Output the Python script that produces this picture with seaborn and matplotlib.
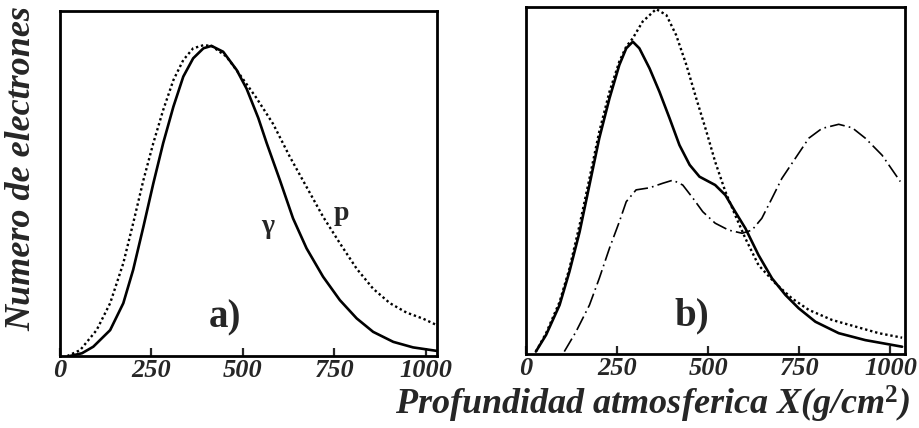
import numpy as np
import pandas as pd
import matplotlib
matplotlib.use("Agg")
import matplotlib.pyplot as plt
import seaborn as sns

# ---- data (y as fraction of panel height) ----
a_gamma_x = [27, 60, 91, 137, 173, 200, 228, 255, 282, 310, 337, 364, 392, 414, 446, 483, 510, 542,
             565, 601, 637, 674, 719, 765, 811, 856, 911, 965, 1029]
a_gamma_y = [0.0, 0.008, 0.027, 0.075, 0.153, 0.25, 0.375, 0.50, 0.617, 0.723, 0.81, 0.863, 0.892, 0.899, 0.882, 0.829, 0.775, 0.69,
             0.617, 0.51, 0.399, 0.312, 0.23, 0.162, 0.109, 0.07, 0.041, 0.025, 0.015]

a_p_x = [20, 55, 100, 137, 173, 200, 228, 255, 282, 310, 337, 364, 392, 414, 455, 492, 537, 583, 628,
         674, 719, 765, 811, 856, 902, 947, 993, 1029]
a_p_y = [0.0, 0.017, 0.075, 0.153, 0.269, 0.385, 0.51, 0.617, 0.713, 0.80, 0.858, 0.892, 0.901, 0.899, 0.868, 0.815, 0.748, 0.672, 0.578,
         0.49, 0.404, 0.327, 0.253, 0.195, 0.153, 0.126, 0.108, 0.09]

b_solid_x = [27, 55, 92, 119, 147, 174, 201, 229, 256, 275, 293, 311, 339, 366, 394, 421, 449, 476, 519,
             547, 574, 602, 638, 675, 712, 748, 794, 858, 931, 1032]
b_solid_y = [0.007, 0.055, 0.141, 0.237, 0.352, 0.487, 0.622, 0.737, 0.833, 0.881, 0.90, 0.881, 0.823, 0.756, 0.679, 0.602, 0.545, 0.511, 0.487,
             0.458, 0.41, 0.362, 0.285, 0.218, 0.17, 0.132, 0.093, 0.06, 0.04, 0.021]

b_dot_x = [27, 55, 92, 119, 147, 174, 201, 229, 256, 275, 293, 320, 357, 385, 412, 440, 467, 495, 519,
           547, 574, 602, 638, 684, 730, 776, 840, 904, 968, 1032]
b_dot_y = [0.007, 0.06, 0.15, 0.246, 0.372, 0.506, 0.641, 0.756, 0.843, 0.886, 0.91, 0.958, 0.994, 0.977, 0.919, 0.833, 0.737, 0.641, 0.554,
           0.468, 0.40, 0.333, 0.256, 0.204, 0.16, 0.127, 0.098, 0.079, 0.06, 0.047]

b_dash_x = [105, 137, 174, 201, 229, 256, 275, 302, 339, 375, 403, 430, 458, 485, 519, 556, 593, 620, 647,
            675, 702, 739, 776, 812, 858, 895, 931, 977, 1027]
b_dash_y = [0.007, 0.064, 0.141, 0.218, 0.305, 0.381, 0.439, 0.473, 0.479, 0.492, 0.501, 0.487, 0.449, 0.41, 0.377, 0.357, 0.348, 0.357, 0.391,
            0.449, 0.506, 0.564, 0.622, 0.65, 0.662, 0.652, 0.622, 0.573, 0.497]

x_ticks = [0, 250, 500, 750, 1000]
x_ticklabels = ["0", "250", "500", "750", "1000"]

sns.set_style("white")
plt.rcParams["font.family"] = ["Liberation Serif", "DejaVu Serif"]
plt.rcParams["mathtext.fontset"] = "custom"
plt.rcParams["mathtext.rm"] = "Liberation Serif"
plt.rcParams["mathtext.it"] = "Liberation Serif:italic:bold"
plt.rcParams["mathtext.bf"] = "Liberation Serif:bold"

fig = plt.figure(figsize=(9.19, 4.28), dpi=100)
ax1 = fig.add_axes([0.0653, 0.1682, 0.410, 0.806])
ax2 = fig.add_axes([0.5724, 0.1729, 0.4124, 0.8107])

dot_style = (0, (1, 1.2))
sns.lineplot(x=a_gamma_x, y=a_gamma_y, ax=ax1, color="black", lw=1.9, sort=False)
sns.lineplot(x=a_p_x, y=a_p_y, ax=ax1, color="black", lw=1.7, linestyle=dot_style, sort=False)

sns.lineplot(x=b_solid_x, y=b_solid_y, ax=ax2, color="black", lw=1.9, sort=False)
sns.lineplot(x=b_dot_x, y=b_dot_y, ax=ax2, color="black", lw=1.7, linestyle=dot_style, sort=False)
sns.lineplot(x=b_dash_x, y=b_dash_y, ax=ax2, color="black", lw=1.2, linestyle=(0, (9, 2.5, 1, 2.5)), sort=False)

tickfont = dict(family="Liberation Serif", style="italic", weight="bold", size=19)
for ax, xmax in ((ax1, 1030), (ax2, 1040)):
    ax.set_xlim(0, xmax)
    ax.set_ylim(0, 1)
    ax.set_yticks([])
    ax.set_xticks(x_ticks)
    ax.set_xticklabels(x_ticklabels, fontdict=tickfont)
    ax.tick_params(axis="x", direction="in", length=6, width=1.6, pad=2, bottom=True)
    for s in ax.spines.values():
        s.set_visible(True)
        s.set_color("black")
        s.set_linewidth(2.0)
    ax.set_xlabel("")
    ax.set_ylabel("")

labfont = dict(family="Liberation Serif", weight="bold", size=28)
ax1.text(451, 0.11, "a)", ha="center", va="center", **labfont)
ax2.text(456, 0.11, "b)", ha="center", va="center", **labfont)
ax1.text(568, 0.374, "γ", ha="center", va="center", family="Liberation Serif", weight="bold", size=20)
ax1.text(770, 0.414, "p", ha="center", va="center", family="Liberation Serif", weight="bold", size=20)

fig.text(0.024, 0.605, "Numero de electrones", rotation=90, ha="center", va="center",
         family="Liberation Serif", style="italic", weight="bold", size=26)
fig.text(0.99, 0.055, "Profundidad atmosferica X(g/cm$^{\\mathbf{2}}$)", ha="right", va="center",
         family="Liberation Serif", style="italic", weight="bold", size=26)

fig.savefig("out.png", dpi=100)
